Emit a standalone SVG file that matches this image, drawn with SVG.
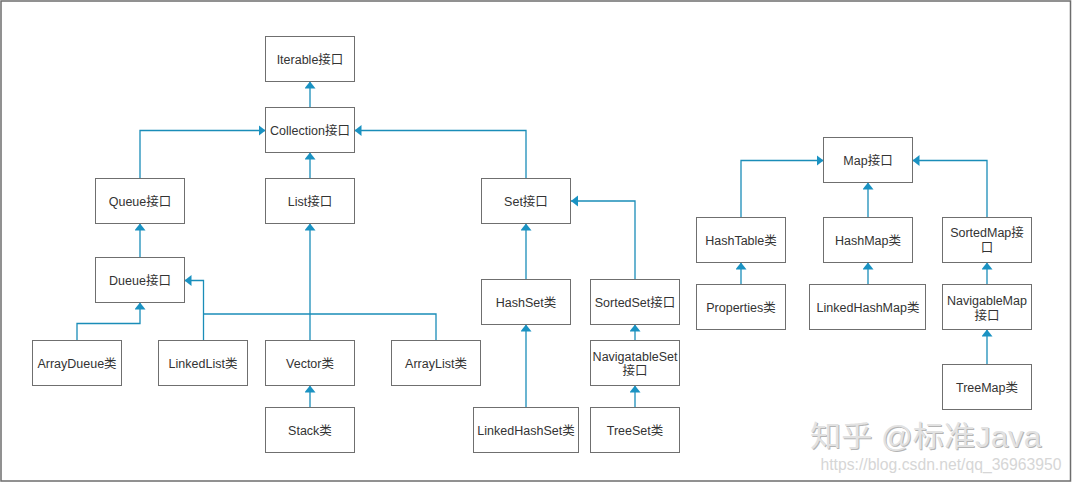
<svg xmlns="http://www.w3.org/2000/svg" width="1072" height="482" viewBox="0 0 1072 482">
  <defs>
    <style>
      .box { fill: #ffffff; stroke: #6f6f6f; stroke-width: 1; }
      .lbl { font-family: "Liberation Sans", "Noto Sans CJK SC", Arial, sans-serif; font-size: 12.5px; fill: #333333; text-anchor: middle; }
      .edge { fill: none; stroke: #1a8db8; stroke-width: 1.3; marker-end: url(#tip); }
      .seg { fill: none; stroke: #1a8db8; stroke-width: 1.3; }
      .wm { font-family: "Liberation Sans", "Noto Sans CJK SC", Arial, sans-serif; }
    </style>
    <marker id="tip" markerUnits="userSpaceOnUse" markerWidth="8" markerHeight="12" refX="7" refY="5.5" orient="auto">
      <path d="M0,0 L7,5.5 L0,11 Z" fill="#1a92c2"/>
    </marker>
  </defs>

  <rect x="1" y="1" width="1069.5" height="480" fill="#ffffff" stroke="#6d6d6d" stroke-width="1.5"/>

  <!-- inheritance connectors -->
  <g id="connectors">
    <path class="edge" d="M310,107.5 V81.5"/>
    <path class="edge" d="M140,178.5 V130.5 H265.5"/>
    <path class="edge" d="M310,178.5 V152.5"/>
    <path class="edge" d="M526,178.5 V130.5 H354.5"/>
    <path class="edge" d="M140,257.5 V223.5"/>
    <path class="edge" d="M77,340.5 V323.5 H140 V302.5"/>
    <path class="edge" d="M203.5,340.5 V280.5 H184.5"/>
    <path class="seg" d="M203.5,314 H310"/>
    <path class="edge" d="M310,340.5 V223.5"/>
    <path class="seg" d="M436,340.5 V314 H310"/>
    <path class="edge" d="M310,407.5 V385.5"/>
    <path class="edge" d="M526,279.5 V223.5"/>
    <path class="edge" d="M635,279.5 V201 H571"/>
    <path class="edge" d="M635,340.5 V324.5"/>
    <path class="edge" d="M635,407.5 V385.5"/>
    <path class="edge" d="M526,407.5 V324.5"/>
    <path class="edge" d="M741,217.5 V160.5 H823.5"/>
    <path class="edge" d="M868,217.5 V182.5"/>
    <path class="edge" d="M987,217.5 V160.5 H912.5"/>
    <path class="edge" d="M741,284.5 V262.5"/>
    <path class="edge" d="M868,284.5 V262.5"/>
    <path class="edge" d="M987,284.5 V262.5"/>
    <path class="edge" d="M987,364.5 V329.5"/>
  </g>

  <!-- Collection hierarchy -->
  <g id="iterable"><rect class="box" x="265.5" y="36.5" width="89" height="45"/><text class="lbl" x="310" y="63.5">Iterable接口</text></g>
  <g id="collection"><rect class="box" x="265.5" y="107.5" width="89" height="45"/><text class="lbl" x="310" y="134.5">Collection接口</text></g>
  <g id="queue"><rect class="box" x="95.5" y="178.5" width="89" height="45"/><text class="lbl" x="140" y="205.5">Queue接口</text></g>
  <g id="list"><rect class="box" x="265.5" y="178.5" width="89" height="45"/><text class="lbl" x="310" y="205.5">List接口</text></g>
  <g id="set"><rect class="box" x="481.5" y="178.5" width="89" height="45"/><text class="lbl" x="526" y="205.5">Set接口</text></g>
  <g id="dueue"><rect class="box" x="95.5" y="257.5" width="89" height="45"/><text class="lbl" x="140" y="284.5">Dueue接口</text></g>
  <g id="arraydueue"><rect class="box" x="32.5" y="340.5" width="89" height="45"/><text class="lbl" x="77" y="367.5">ArrayDueue类</text></g>
  <g id="linkedlist"><rect class="box" x="158.5" y="340.5" width="89" height="45"/><text class="lbl" x="203" y="367.5">LinkedList类</text></g>
  <g id="vector"><rect class="box" x="265.5" y="340.5" width="89" height="45"/><text class="lbl" x="310" y="367.5">Vector类</text></g>
  <g id="stack"><rect class="box" x="265.5" y="407.5" width="89" height="45"/><text class="lbl" x="310" y="434.5">Stack类</text></g>
  <g id="arraylist"><rect class="box" x="391.5" y="340.5" width="89" height="45"/><text class="lbl" x="436" y="367.5">ArrayList类</text></g>
  <g id="hashset"><rect class="box" x="481.5" y="279.5" width="89" height="45"/><text class="lbl" x="526" y="306.5">HashSet类</text></g>
  <g id="sortedset"><rect class="box" x="590.5" y="279.5" width="89" height="45"/><text class="lbl" x="635" y="306.5">SortedSet接口</text></g>
  <g id="navigatableset"><rect class="box" x="590.5" y="340.5" width="89" height="45"/><text class="lbl" x="635" y="360.5">NavigatableSet<tspan x="635" dy="14.5">接口</tspan></text></g>
  <g id="linkedhashset"><rect class="box" x="473.5" y="407.5" width="105" height="45"/><text class="lbl" x="526" y="434.5">LinkedHashSet类</text></g>
  <g id="treeset"><rect class="box" x="590.5" y="407.5" width="89" height="45"/><text class="lbl" x="635" y="434.5">TreeSet类</text></g>

  <!-- Map hierarchy -->
  <g id="map"><rect class="box" x="823.5" y="137.5" width="89" height="45"/><text class="lbl" x="868" y="164.5">Map接口</text></g>
  <g id="hashtable"><rect class="box" x="696.5" y="217.5" width="89" height="45"/><text class="lbl" x="741" y="244.5">HashTable类</text></g>
  <g id="hashmap"><rect class="box" x="823.5" y="217.5" width="89" height="45"/><text class="lbl" x="868" y="244.5">HashMap类</text></g>
  <g id="sortedmap"><rect class="box" x="942.5" y="217.5" width="89" height="45"/><text class="lbl" x="987" y="237">SortedMap接<tspan x="987" dy="15">口</tspan></text></g>
  <g id="properties"><rect class="box" x="696.5" y="284.5" width="89" height="45"/><text class="lbl" x="741" y="311.5">Properties类</text></g>
  <g id="linkedhashmap"><rect class="box" x="809.5" y="284.5" width="116" height="45"/><text class="lbl" x="868" y="311.5">LinkedHashMap类</text></g>
  <g id="navigablemap"><rect class="box" x="942.5" y="284.5" width="89" height="45"/><text class="lbl" x="987" y="304.5">NavigableMap<tspan x="987" dy="15">接口</tspan></text></g>
  <g id="treemap"><rect class="box" x="942.5" y="364.5" width="89" height="45"/><text class="lbl" x="987" y="391.5">TreeMap类</text></g>

  <!-- watermark -->
  <g id="watermark" class="wm">
    <text x="811" y="448" font-size="29" fill="#b4b4b4" textLength="231" lengthAdjust="spacingAndGlyphs">知乎 @标准Java</text>
    <text x="810" y="447" font-size="29" fill="#e2e2e2" textLength="231" lengthAdjust="spacingAndGlyphs">知乎 @标准Java</text>
    <text x="820.5" y="470" font-size="16" fill="#d6d6d6" textLength="241" lengthAdjust="spacingAndGlyphs">https://blog.csdn.net/qq_36963950</text>
  </g>
</svg>
